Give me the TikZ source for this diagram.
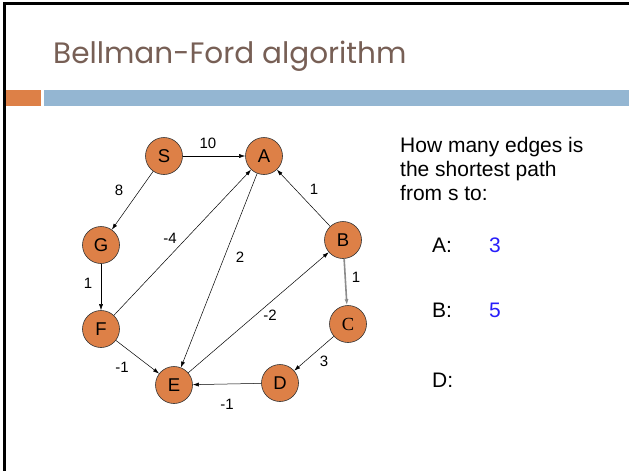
\documentclass[tikz,border=0pt]{standalone}
\usepackage{fontspec}
\setmainfont{Liberation Sans}
\newfontfamily\titlefont{Poppins}
\newfontfamily\serifC{Liberation Serif}
\usepackage{xcolor}
\usetikzlibrary{arrows.meta, positioning}
\definecolor{BFOrange}{RGB}{221, 128, 71}
\definecolor{BFBlue}{RGB}{148, 182, 210}
\definecolor{BFTitle}{RGB}{119, 95, 85}
\definecolor{BFAnswer}{RGB}{40, 30, 250}

\tikzset{
  vertex/.style={circle, draw=black!80, line width=0.6pt, fill=BFOrange,
                 minimum size=37pt, inner sep=0pt, font=\fontsize{18.5}{20}\selectfont},
  wedge/.style={-{Latex[length=6pt, width=4pt]}, line width=0.5pt},
  wlabel/.style={font=\fontsize{15}{17}\selectfont, inner sep=0pt},
  asktext/.style={font=\fontsize{21}{24}\selectfont, inner sep=0pt, anchor=base west}
}

\begin{document}
\begin{tikzpicture}[x=1pt, y=-1pt]
  \useasboundingbox (0,0) rectangle (629,471);
  \fill[white] (0,0) rectangle (629,471);

  % slide frame and header bars
  \draw[line width=3pt, black] (4,471) -- (4,3) -- (629,3);
  \fill[BFOrange] (6,90) rectangle (41,106);
  \fill[BFBlue] (44,90) rectangle (629,106);
  \node[anchor=base west, inner sep=0pt, text=BFTitle,
        font=\titlefont\fontsize{29.5}{31}\selectfont] (title) at (53,63) {Bellman-Ford algorithm};

  % graph
  \node[vertex] (S) at (164,156) {S};
  \node[vertex] (A) at (264,156) {A};
  \node[vertex] (G) at (101,245) {G};
  \node[vertex] (B) at (343,240) {B};
  \node[vertex] (F) at (101,329) {F};
  \node[vertex] (C) at (348,324) {\serifC C};
  \node[vertex] (E) at (174,385) {E};
  \node[vertex] (D) at (280,383) {D};

  \draw[wedge] (S) -- (A);
  \draw[wedge] (S) -- (G);
  \draw[wedge] (G) -- (F);
  \draw[wedge] (F) -- (A);
  \draw[wedge] (F) -- (E);
  \draw[wedge] (A) -- (E);
  \draw[wedge] (E) -- (B);
  \draw[wedge] (B) -- (A);
  \draw[wedge, draw=black!45, line width=1.6pt] (B) -- (C);
  \draw[wedge] (C) -- (D);
  \draw[wedge] (D) -- (E);

  % weights
  \node[wlabel] (wSA) at (208,143) {10};
  \node[wlabel] (wSG) at (119,190) {8};
  \node[wlabel] (wBA) at (314,189) {1};
  \node[wlabel] (wFA) at (170,238) {-4};
  \node[wlabel] (wAE) at (240,257) {2};
  \node[wlabel] (wGF) at (88,283) {1};
  \node[wlabel] (wBC) at (356,277) {1};
  \node[wlabel] (wEB) at (270,315) {-2};
  \node[wlabel] (wCD) at (324,361) {3};
  \node[wlabel] (wFE) at (122,367) {-1};
  \node[wlabel] (wDE) at (227,404) {-1};

  % question
  \node[asktext] (q1) at (400,152) {How many edges is};
  \node[asktext] (q2) at (400,176) {the shortest path};
  \node[asktext] (q3) at (400,200) {from s to:};
  \node[asktext] (qA) at (432,252.5) {A:};
  \node[asktext, text=BFAnswer] (aA) at (489,252.5) {3};
  \node[asktext] (qB) at (432,317.5) {B:};
  \node[asktext, text=BFAnswer] (aB) at (489,317.5) {5};
  \node[asktext] (qD) at (432,387.5) {D:};
\end{tikzpicture}
\end{document}
